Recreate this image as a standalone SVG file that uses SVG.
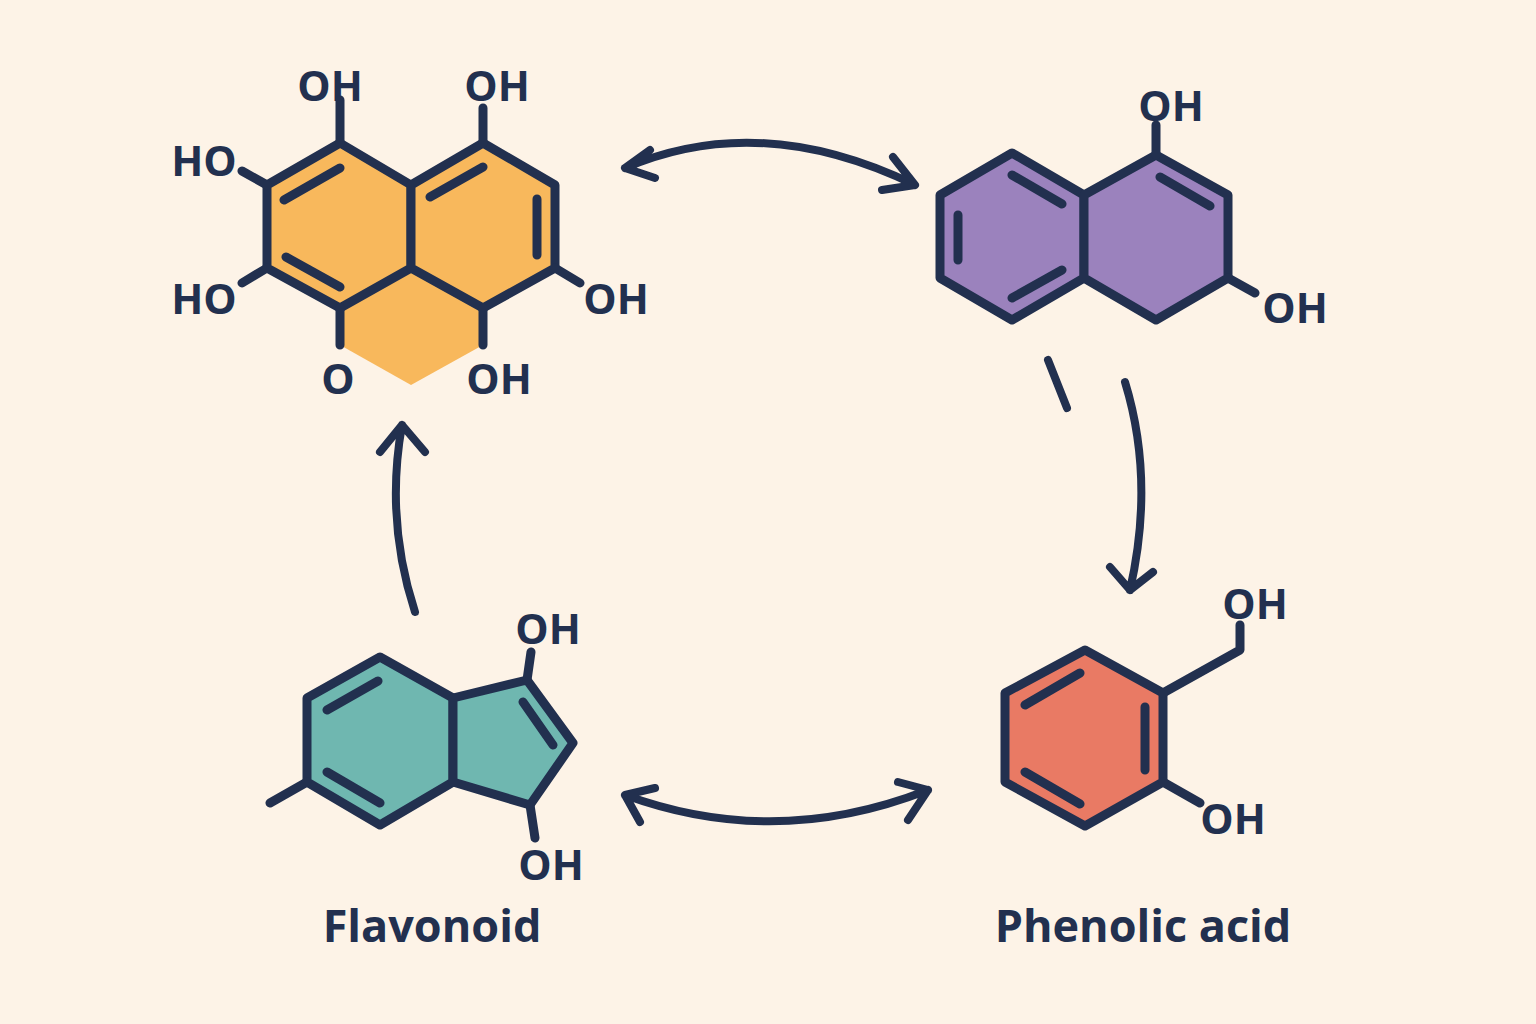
<svg xmlns="http://www.w3.org/2000/svg" width="1536" height="1024" viewBox="0 0 1536 1024">
<defs>
<style>
.b{stroke:#22304f;stroke-width:9;stroke-linecap:round;stroke-linejoin:round;fill:none}
.r{stroke:#22304f;stroke-width:9;stroke-linejoin:round}
.t{font-family:"Open Sans","DejaVu Sans",sans-serif;font-weight:700;fill:#22304f;font-size:42px;text-anchor:middle}
.lab{font-family:"Open Sans","DejaVu Sans",sans-serif;font-weight:700;fill:#22304f;font-size:45px;text-anchor:middle}
.a{stroke:#22304f;stroke-width:8;stroke-linecap:round;stroke-linejoin:round;fill:none}
</style>
</defs>
<rect width="1536" height="1024" fill="#fdf3e7"/>
<g id="orange">
<polygon points="340,308 411,268 483,308 483,345 411,385 340,345" fill="#f8b85c"/>
<polygon class="r" fill="#f8b85c" points="340,143 411,185 411,268 340,308 267,268 267,185"/>
<polygon class="r" fill="#f8b85c" points="483,143 555,185 555,268 483,308 411,268 411,185"/>
<path class="b" d="M340,308V345M483,308V345M340,143V100M483,143V108M267,185L242,171M267,268L242,283M555,268L580,283M284,200L340,168M286,257L340,287M430,197L483,167M537,199V255"/>
<text class="t" x="330" y="101">OH</text>
<text class="t" x="497" y="101">OH</text>
<text class="t" x="204" y="176">HO</text>
<text class="t" x="204" y="314">HO</text>
<text class="t" x="616" y="314">OH</text>
<text class="t" x="338" y="394">O</text>
<text class="t" x="499" y="394">OH</text>
</g>
<g id="purple">
<polygon class="r" fill="#9b82bd" points="1012,153 1084,195 1084,278 1012,320 940,278 940,195"/>
<polygon class="r" fill="#9b82bd" points="1156,155 1228,195 1228,278 1156,320 1084,278 1084,195"/>
<path class="b" d="M958,215V260M1012,175L1062,204M1012,298L1062,270M1160,177L1210,206M1156,155V125M1228,278L1255,293"/>
<text class="t" x="1171" y="121">OH</text>
<text class="t" x="1295" y="323">OH</text>
</g>
<g id="teal">
<polygon class="r" fill="#6fb7b0" points="380,657 453,698 453,782 380,825 307,782 307,698"/>
<polygon class="r" fill="#6fb7b0" points="453,698 527,680 573,743 530,805 453,782"/>
<path class="b" d="M307,782L270,803M527,680L531,652M530,805L535,838M327,710L378,681M327,772L380,803M523,702L553,745"/>
<text class="t" x="548" y="644">OH</text>
<text class="t" x="551" y="880">OH</text>
<text class="lab" x="432" y="942">Flavonoid</text>
</g>
<g id="red">
<polygon class="r" fill="#e97a64" points="1085,650 1163,693 1163,782 1085,826 1005,782 1005,693"/>
<path class="b" d="M1163,693L1240,650V625M1163,782L1200,803M1025,705L1080,673M1145,707V770M1025,772L1080,804"/>
<text class="t" x="1255" y="619">OH</text>
<text class="t" x="1233" y="834">OH</text>
<text class="lab" x="1143" y="942">Phenolic acid</text>
</g>
<g id="connectors">
<path class="a" d="M625,168Q760,110 915,185M650,150L625,168L655,178M893,157L915,185L882,190"/>
<path class="a" d="M1125,382Q1155,480 1130,590M1110,567L1130,590L1153,572M1048,360L1067,408"/>
<path class="a" d="M415,612Q385,520 402,425M380,452L402,425L425,452"/>
<path class="a" d="M625,795Q775,850 928,790M640,822L625,795L655,788M898,782L928,790L908,820"/>
</g>
</svg>
